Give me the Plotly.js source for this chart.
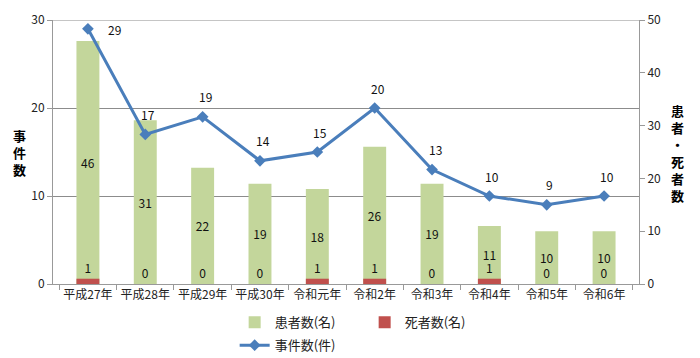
<!DOCTYPE html>
<html>
<head>
<meta charset="utf-8">
<script src="https://cdn.plot.ly/plotly-3.0.1.min.js"></script>
<style>html,body{margin:0;padding:0;background:#fff;}#chart{width:700px;height:358px;}</style>
</head>
<body>
<div id="chart"></div>
<script>
const categories = ['平成27年','平成28年','平成29年','平成30年','令和元年','令和2年','令和3年','令和4年','令和5年','令和6年'];
const patients = [46, 31, 22, 19, 18, 26, 19, 11, 10, 10];
const deaths = [1, 0, 0, 0, 1, 1, 0, 1, 0, 0];
const incidents = [29, 17, 19, 14, 15, 20, 13, 10, 9, 10];
const leftTicks = [0, 10, 20, 30];
const rightTicks = [0, 10, 20, 30, 40, 50];

const FONT = '"Noto Sans CJK JP", "Noto Sans", sans-serif';
const GREEN = '#C3D69B', RED = '#C0504D', BLUE = '#4A7EBB';

const traces = [
  {
    type: 'bar', name: '患者数(名)', x: categories, y: patients, yaxis: 'y',
    marker: {color: GREEN}, width: 0.4,
    text: patients.map(String), textposition: 'inside', insidetextanchor: 'middle',
    textangle: 0, textfont: {color: '#111', size: 12, family: FONT}, constraintext: 'none',
    legend: 'legend', hoverinfo: 'skip'
  },
  {
    type: 'bar', name: '死者数(名)', x: categories, y: deaths, yaxis: 'y',
    marker: {color: RED}, width: 0.4,
    text: deaths.map(String), textposition: 'outside', textangle: 0,
    textfont: {color: '#111', size: 12, family: FONT}, constraintext: 'none', cliponaxis: false,
    legend: 'legend', hoverinfo: 'skip'
  },
  {
    type: 'scatter', mode: 'lines+markers', name: '事件数(件)', x: categories, y: incidents, yaxis: 'y2',
    line: {color: BLUE, width: 3}, marker: {symbol: 'diamond', size: 9, color: BLUE},
    legend: 'legend2', hoverinfo: 'skip', cliponaxis: false
  }
];

const annotations = incidents.map((v, i) => ({
  x: categories[i], y: v, xref: 'x', yref: 'y2', text: String(v), showarrow: false,
  xshift: i === 0 ? 27 : 3, yshift: i === 0 ? -1 : 20,
  font: {size: 12, color: '#111', family: FONT}
}));
annotations.push(
  {xref: 'paper', yref: 'paper', x: -0.058, xanchor: 'center', y: 0.5, yanchor: 'middle',
   text: '事<br>件<br>数', showarrow: false,
   font: {size: 13, color: '#000', family: FONT, weight: 'bold'}, align: 'center'},
  {xref: 'paper', yref: 'paper', x: 1.066, xanchor: 'center', y: 0.495, yanchor: 'middle',
   text: '患<br>者<br>・<br>死<br>者<br>数', showarrow: false,
   font: {size: 13, color: '#000', family: FONT, weight: 'bold'}, align: 'center'}
);

const layout = {
  width: 700, height: 358,
  margin: {l: 53, r: 61, t: 20, b: 74, autoexpand: false},
  paper_bgcolor: '#fff', plot_bgcolor: '#fff',
  font: {family: FONT, size: 12, color: '#222'},
  barmode: 'overlay',
  showlegend: true,
  xaxis: {
    type: 'category', showline: true, linecolor: '#999', linewidth: 1,
    ticks: 'outside', tickson: 'boundaries', ticklen: 5, tickcolor: '#999',
    tickangle: 0, automargin: false,
    tickfont: {size: 12, color: '#222'}, showgrid: false, fixedrange: true
  },
  yaxis: {
    side: 'right', range: [0, 50], tickvals: rightTicks, showgrid: false, automargin: false,
    showline: true, linecolor: '#999', linewidth: 1, ticks: 'outside', ticklen: 5, tickcolor: '#999',
    tickfont: {size: 12, color: '#222'}, zeroline: false, fixedrange: true
  },
  yaxis2: {
    overlaying: 'y', side: 'left', range: [0, 30], tickvals: leftTicks, automargin: false,
    showgrid: true, gridcolor: '#8c8c8c', gridwidth: 1,
    showline: true, linecolor: '#999', linewidth: 1, ticks: 'outside', ticklen: 5, tickcolor: '#999',
    tickfont: {size: 12, color: '#222'}, zeroline: false, fixedrange: true
  },
  shapes: [{
    type: 'line', xref: 'paper', yref: 'y2', x0: 0, x1: 1,
    y0: leftTicks[leftTicks.length - 1], y1: leftTicks[leftTicks.length - 1],
    line: {color: '#8c8c8c', width: 1}, layer: 'below'
  }],
  legend: {
    orientation: 'h', x: 0.31, xanchor: 'left', y: -0.145, yanchor: 'middle',
    font: {size: 13, color: '#222', family: FONT}, itemwidth: 30,
    entrywidth: 85, entrywidthmode: 'pixels', bgcolor: 'rgba(0,0,0,0)', traceorder: 'normal'
  },
  legend2: {
    orientation: 'h', x: 0.31, xanchor: 'left', y: -0.232, yanchor: 'middle',
    font: {size: 13, color: '#222', family: FONT}, itemwidth: 30, bgcolor: 'rgba(0,0,0,0)'
  },
  annotations: annotations
};

Plotly.newPlot('chart', traces, layout, {staticPlot: true});
</script>
</body>
</html>
